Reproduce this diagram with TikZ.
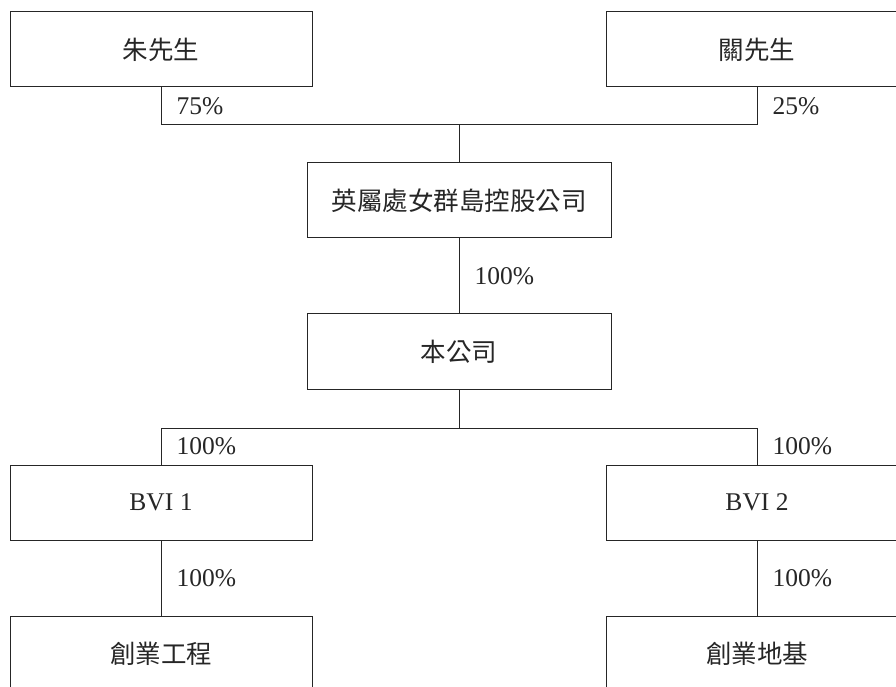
\documentclass[tikz,border=0pt]{standalone}
\usepackage{fontspec}
\setmainfont{Liberation Serif}
\newfontfamily\cjk{Noto Sans CJK TC}
\usetikzlibrary{positioning}

\begin{document}
\begin{tikzpicture}[x=1pt,y=1pt,node distance=151pt]
    \tikzset{box/.style={draw=black!85,line width=1pt,minimum width=302pt,minimum height=75pt,
        text=black!85,font=\fontsize{25.5pt}{30pt}\selectfont},wide/.style={box,minimum
        width=304pt},pct/.style={anchor=west,inner sep=0pt,xshift=15pt,text=black!85,
        font=\fontsize{25.5pt}{30pt}\selectfont},link/.style={draw=black!85,line width=1pt}}
    \useasboundingbox (0,0) rectangle (896,686);
    \clip (0,0) rectangle (896,686);

    \node[box] (zhu) at (161,636.5) {\cjk 朱先生};
    \node[box] (guan) [right of=zhu,xshift=445pt] {\cjk 關先生};
    \node[wide] (hold) [below of=zhu,xshift=298pt] {\cjk 英屬處女群島控股公司};
    \node[wide] (ben) [below of=hold] {\cjk 本公司};
    \node[box] (bvi1) [below of=ben,xshift=-298pt] {BVI 1};
    \node[box] (bvi2) [right of=bvi1,xshift=445pt] {BVI 2};
    \node[box] (cy1) [below of=bvi1] {\cjk 創業工程};
    \node[box] (cy2) [below of=bvi2] {\cjk 創業地基};

    \coordinate (jtop) at (459,561);
    \coordinate (jmid) at (459,258);

    \draw[link] (zhu.south) -- node[pct] {75\%} (zhu.south |- jtop) -- (jtop);
    \draw[link] (guan.south) -- node[pct] {25\%} (guan.south |- jtop) -- (jtop);
    \draw[link] (jtop) -- (hold.north);
    \draw[link] (hold) -- node[pct] {100\%} (ben);

    \draw[link] (ben) -- (jmid);
    \draw[link] (jmid) -| node[pct,pos=0.75] {100\%} (bvi1.north);
    \draw[link] (jmid) -| node[pct,pos=0.75] {100\%} (bvi2.north);
    \draw[link] (bvi1) -- node[pct] {100\%} (cy1);
    \draw[link] (bvi2) -- node[pct] {100\%} (cy2);

  \end{tikzpicture}
\end{document}
